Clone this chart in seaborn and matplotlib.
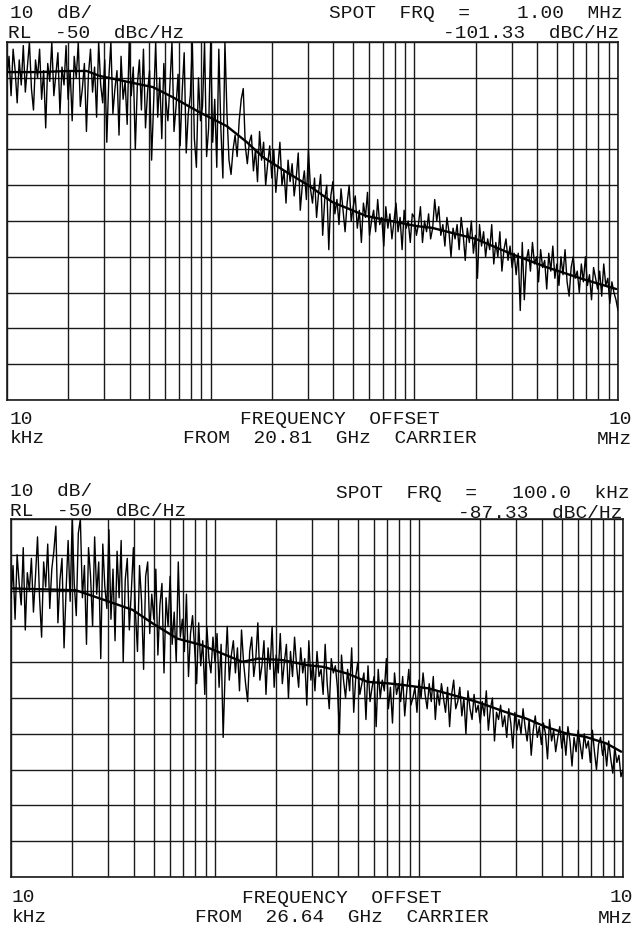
import numpy as np
import pandas as pd
import matplotlib
matplotlib.use("Agg")
import matplotlib.pyplot as plt
import seaborn as sns
from matplotlib.ticker import LogLocator, NullFormatter, MultipleLocator

# ---------------- data ----------------
# smooth (averaged) trace, top plot: offset frequency (Hz), level (dBc/Hz)
top_smooth_f = [10.2e3, 14.5e3, 20e3, 24.6e3, 28.6e3, 52e3, 65e3, 88e3, 120e3, 150e3,
                180e3, 235e3, 305e3, 395e3, 580e3, 1.02e6, 1.22e6, 2.0e6, 3.0e6, 4.4e6,
                6.7e6, 9.8e6]
top_smooth_db = [-58.4, -58.4, -58.1, -58.1, -59.5, -62.6, -65.4, -69.6, -73.5, -77.9,
                 -82.1, -86.3, -90.2, -94.7, -98.6, -101.4, -101.9, -105.0, -109.2, -112.8,
                 -116.2, -119.0]

# raw (noisy) trace, top plot: 301 points of the instrument's log sweep 10 kHz..10 MHz
top_raw_db = [
    # 10 kHz .. 100 kHz
    -60, -54, -65, -52, -58, -67, -55, -62, -51, -64,
    -57, -50, -63, -69, -55, -60, -52, -66, -58, -74,
    -56, -61, -50, -65, -59, -53, -70, -57, -62, -51,
    -66, -58, -72, -54, -60, -50, -68, -63, -56, -75,
    -59, -52, -64, -57, -71, -50, -62, -67, -55, -78,
    -60, -50, -70, -63, -58, -76, -54, -66, -61, -73,
    -50, -65, -57, -80, -62, -55, -69, -52, -74, -64,
    -58, -83, -67, -50, -71, -60, -77, -56, -66, -72,
    -62, -50, -75, -68, -59, -79, -64, -53, -81, -70,
    -65, -50, -77, -85, -60, -72, -68, -50, -82, -74,
    # 100 kHz .. 1 MHz
    -50, -78, -66, -85, -52, -74, -88, -50, -70, -83,
    -87, -80, -76, -82, -72, -66, -63, -79, -84, -78,
    -76, -86, -80, -89, -75, -83, -78, -90, -84, -79,
    -88, -80, -92, -85, -78, -90, -86, -95, -83, -89,
    -84, -93, -88, -81, -97, -90, -86, -94, -80, -91,
    -95, -88, -99, -92, -87, -104, -94, -90, -108, -93,
    -89, -98, -94, -101, -91, -97, -103, -95, -90, -100,
    -96, -93, -102, -97, -106, -95, -99, -92, -104, -100,
    -97, -103, -94, -101, -99, -107, -96, -102, -98, -105,
    -100, -95, -103, -99, -108, -97, -102, -100, -106, -98,
    # 1 MHz .. 10 MHz
    -99, -104, -101, -96, -106, -100, -103, -98, -105, -102,
    -94, -100, -96, -104, -101, -107, -99, -103, -110, -102,
    -105, -101, -108, -99, -104, -111, -102, -106, -100, -109,
    -104, -116, -101, -107, -103, -110, -105, -108, -101, -112,
    -106, -110, -103, -114, -108, -105, -111, -107, -113, -109,
    -115, -109, -125, -106, -122, -111, -108, -114, -106, -112,
    -110, -117, -108, -113, -111, -119, -109, -114, -107, -116,
    -112, -118, -110, -115, -108, -117, -121, -113, -110, -116,
    -114, -120, -112, -117, -110, -118, -115, -122, -113, -116,
    -119, -114, -121, -112, -118, -116, -123, -117, -120, -122, -125,
]

# smooth trace, bottom plot
bot_smooth_f = [10.2e3, 20.8e3, 28.6e3, 39.5e3, 49.6e3, 65.3e3, 85.9e3, 113e3, 136e3, 163e3,
                214e3, 282e3, 339e3, 446e3, 560e3, 705e3, 845e3, 1.11e6, 1.47e6, 1.93e6,
                2.65e6, 3.34e6, 4.2e6, 5.27e6, 6.6e6, 8.3e6, 9.8e6]
bot_smooth_db = [-69.4, -69.9, -72.6, -75.4, -79.2, -83.4, -85.2, -88.0, -89.9, -89.0,
                 -89.4, -90.8, -91.3, -93.2, -95.5, -95.9, -96.4, -97.3, -99.2, -101.1,
                 -103.9, -105.7, -108.1, -109.9, -110.9, -112.7, -115.0]

# raw (noisy) trace, bottom plot
bot_raw_db = [
    # 10 kHz .. 100 kHz
    -72, -63, -78, -60, -68, -74, -58, -81, -65, -70,
    -61, -76, -66, -55, -72, -83, -62, -69, -57, -75,
    -64, -59, -52, -79, -67, -61, -86, -70, -56, -73,
    -50, -68, -77, -54, -50, -72, -63, -85, -58, -66,
    -80, -55, -71, -62, -89, -57, -69, -75, -53, -78,
    -64, -84, -59, -72, -56, -90, -67, -61, -81, -70,
    -58, -76, -87, -63, -73, -92, -66, -62, -82, -71,
    -78, -64, -88, -74, -68, -93, -72, -80, -66, -85,
    -76, -90, -62, -83, -78, -87, -71, -94, -82, -77,
    -86, -96, -79, -91, -84, -99, -80, -89, -93, -83,
    # 100 kHz .. 1 MHz
    -90, -82, -97, -85, -111, -92, -80, -95, -88, -84,
    -93, -86, -98, -81, -90, -96, -101, -87, -83, -94,
    -89, -79, -95, -91, -84, -99, -86, -92, -80, -97,
    -88, -93, -82, -96, -90, -85, -100, -87, -94, -83,
    -91, -97, -86, -93, -89, -102, -84, -95, -90, -98,
    -87, -94, -92, -99, -85, -96, -103, -89, -93, -91,
    -97, -110, -88, -95, -100, -92, -98, -86, -104, -94,
    -90, -99, -96, -93, -106, -91, -101, -97, -94, -108,
    -92, -100, -95, -98, -89, -103, -97, -107, -93, -99,
    -96, -101, -94, -105, -98, -92, -102, -100, -97, -104,
    # 1 MHz .. 10 MHz
    -95, -100, -93, -99, -103, -96, -101, -94, -106, -98,
    -102, -96, -100, -104, -97, -108, -99, -95, -103, -101,
    -97, -105, -100, -110, -98, -103, -106, -99, -104, -102,
    -107, -101, -105, -98, -109, -103, -100, -112, -104, -106,
    -102, -108, -105, -111, -103, -107, -114, -104, -109, -106,
    -110, -103, -108, -112, -106, -116, -109, -105, -111, -108,
    -113, -107, -110, -117, -106, -112, -109, -115, -111, -108,
    -114, -110, -116, -108, -112, -119, -111, -115, -109, -113,
    -117, -110, -114, -112, -118, -109, -115, -120, -113, -111,
    -116, -113, -119, -112, -117, -121, -114, -118, -116, -122, -120,
]

sweep_start, sweep_stop = 10e3, 10e6   # Hz
ref_level, db_per_div, n_div = -50, 10, 10

top_texts = {
    "scale": "10  dB/", "ref": "RL  -50  dBc/Hz",
    "spot": "SPOT  FRQ  =    1.00  MHz", "spot_val": "-101.33  dBC/Hz",
    "carrier": "FROM  20.81  GHz  CARRIER",
}
bot_texts = {
    "scale": "10  dB/", "ref": "RL  -50  dBc/Hz",
    "spot": "SPOT  FRQ  =   100.0  kHz", "spot_val": "-87.33  dBC/Hz",
    "carrier": "FROM  26.64  GHz  CARRIER",
}

# ---------------- figure ----------------
sns.set_style("white")
FONT = ["Liberation Mono", "DejaVu Sans Mono"]
plt.rcParams["font.family"] = FONT

W, H = 634, 928
fig = plt.figure(figsize=(W / 100, H / 100), dpi=100)
fig.patch.set_facecolor("white")


def ax_at(x0, y0, x1, y1):
    return fig.add_axes([x0 / W, 1 - y1 / H, (x1 - x0) / W, (y1 - y0) / H])


def ftext(x, y, s, ha="left", size=14):
    fig.text(x / W, 1 - y / H, s, ha=ha, va="center", fontsize=size,
             color="#151515", family=FONT)


def draw_panel(ax, raw_db, sm_f, sm_db):
    raw_f = np.geomspace(sweep_start, sweep_stop, len(raw_db))
    df_raw = pd.DataFrame({"f": raw_f, "db": raw_db})
    df_sm = pd.DataFrame({"f": sm_f, "db": sm_db})
    ax.set_xscale("log")
    sns.lineplot(data=df_raw, x="f", y="db", ax=ax, color="black", lw=1.0, zorder=3)
    sns.lineplot(data=df_sm, x="f", y="db", ax=ax, color="black", lw=1.7, zorder=4)
    ax.set_xlim(sweep_start, sweep_stop)
    ax.set_ylim(ref_level - db_per_div * n_div, ref_level)
    ax.xaxis.set_major_locator(LogLocator(base=10, numticks=10))
    ax.xaxis.set_minor_locator(LogLocator(base=10, subs=np.arange(2, 10), numticks=100))
    ax.xaxis.set_minor_formatter(NullFormatter())
    ax.yaxis.set_major_locator(MultipleLocator(db_per_div))
    ax.grid(True, which="both", axis="x", color="#1a1a1a", lw=1.0)
    ax.grid(True, which="major", axis="y", color="#1a1a1a", lw=1.0)
    ax.tick_params(which="both", length=0, labelbottom=False, labelleft=False)
    ax.set_xlabel("")
    ax.set_ylabel("")
    for sp in ax.spines.values():
        sp.set_color("#1a1a1a")
        sp.set_linewidth(1.2)


ax1 = ax_at(7, 43, 618, 401)
draw_panel(ax1, top_raw_db, top_smooth_f, top_smooth_db)
ax2 = ax_at(11, 520, 623, 878)
draw_panel(ax2, bot_raw_db, bot_smooth_f, bot_smooth_db)

# header / footer annotations, top panel
ftext(10, 13, top_texts["scale"])
ftext(8, 33, top_texts["ref"])
ftext(623, 14, top_texts["spot"], ha="right")
ftext(619, 34, top_texts["spot_val"], ha="right")
ftext(10, 419, "10")
ftext(340, 420, "FREQUENCY  OFFSET", ha="center")
ftext(632, 419, "10", ha="right")
ftext(10, 439, "kHz")
ftext(330, 439, top_texts["carrier"], ha="center")
ftext(632, 440, "MHz", ha="right")

# bottom panel
ftext(10, 492, bot_texts["scale"])
ftext(10, 512, bot_texts["ref"])
ftext(630, 494, bot_texts["spot"], ha="right")
ftext(622, 514, bot_texts["spot_val"], ha="right")
ftext(12, 898, "10")
ftext(342, 899, "FREQUENCY  OFFSET", ha="center")
ftext(633, 898, "10", ha="right")
ftext(12, 918, "kHz")
ftext(342, 918, bot_texts["carrier"], ha="center")
ftext(633, 919, "MHz", ha="right")

fig.savefig("out.png", dpi=100, facecolor="white")
